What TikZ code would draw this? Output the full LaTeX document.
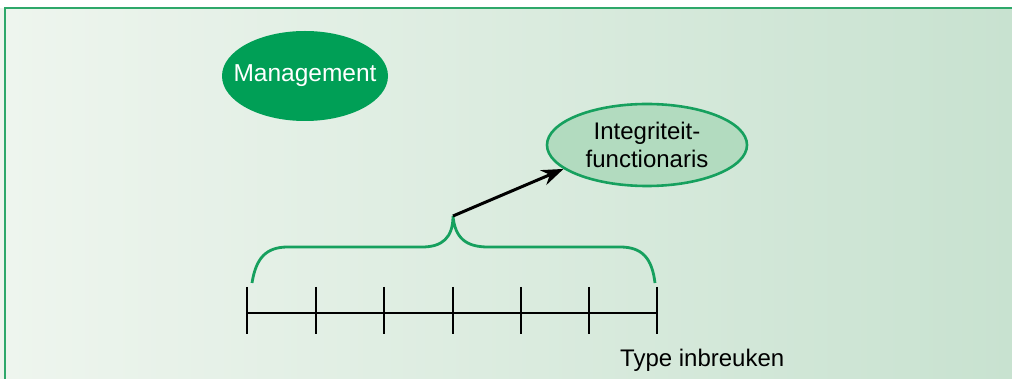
\documentclass[tikz,border=0pt]{standalone}
\usepackage{fontspec}
\setmainfont{Liberation Sans}
\usetikzlibrary{shapes.geometric,arrows.meta}
\definecolor{panelL}{HTML}{EEF5EE}
\definecolor{panelR}{HTML}{C8E2D0}
\definecolor{frameG}{HTML}{2EA86A}
\definecolor{darkG}{HTML}{009F56}
\definecolor{lightG}{HTML}{B2DBBF}
\definecolor{braceG}{HTML}{16A05E}
\tikzset{
  lbl/.style={font=\fontsize{24}{28}\selectfont, text=black},
  mgmt/.style={ellipse, fill=darkG, minimum width=166pt, minimum height=90pt, inner sep=0pt},
  mgmttext/.style={font=\fontsize{24.5}{28}\selectfont, text=white, inner sep=0pt},
  func/.style={ellipse, draw=braceG, line width=2.6pt, fill=lightG, minimum width=200pt,
    minimum height=82pt, inner sep=0pt, align=center, font=\fontsize{24}{28}\selectfont},
  bracket/.style={draw=braceG, line width=2.8pt},
  axisline/.style={draw=black, line width=2.6pt},
  arrowline/.style={draw=black, line width=3pt, -{Stealth[length=22pt,width=16pt]}}
}
\begin{document}
\begin{tikzpicture}[x=1pt,y=-1pt]
  \useasboundingbox (0,0) rectangle (1012,379);
  % panel background
  \fill[white] (0,0) rectangle (1012,379);
  \fill[panelL] (0,8) rectangle (6,379);
  \shade[left color=panelL, right color=panelR] (5,8) rectangle (1012,379);
  \draw[frameG, line width=2.4pt] (5,379) -- (5,8) -- (1012,8);

  % nodes
  \node[mgmt, label={[mgmttext]center:Management}] (mgmt) at (305,76) {};
  \node[func] (func) at (647,145) {Integriteit-\\functionaris};

  % scale with tick marks
  \coordinate (a0) at (247,313);
  \coordinate (a6) at (657,313);
  \draw[axisline] (a0) -- (a6);
  \foreach \x in {247,316,384,453,521,589,657}
    \draw[axisline] (\x,287) -- (\x,334);

  % curly bracket over the scale
  \coordinate (bl) at (252,283);
  \coordinate (bt) at (453,216);
  \coordinate (br) at (655,283);
  \draw[bracket] (bl) .. controls (256,258) and (266,247) .. (288,247)
    -- (422,247) .. controls (442,247) and (453,238) .. (bt)
    .. controls (455,238) and (466,247) .. (488,247)
    -- (620,247) .. controls (642,247) and (652,258) .. (br);

  % arrow from bracket to the officer
  \draw[arrowline] (bt) -- (func.196);

  \node[lbl, anchor=base west, inner sep=0pt] (type) at (620,366) {Type inbreuken};
\end{tikzpicture}
\end{document}
